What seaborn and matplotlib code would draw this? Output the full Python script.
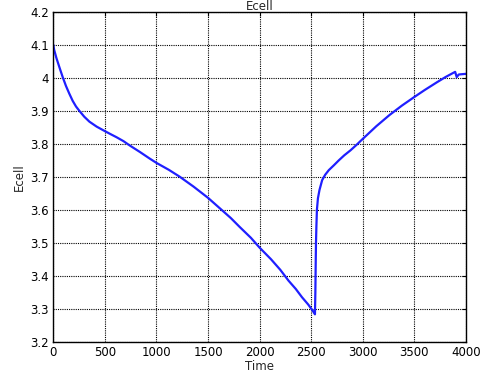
import matplotlib
matplotlib.use("Agg")
import matplotlib.pyplot as plt
import seaborn as sns
import pandas as pd

time = [0, 8, 30, 58, 90, 123, 155, 188, 220, 252, 300, 350, 420, 490, 550, 612,
        680, 740, 840, 935, 1000, 1120, 1226, 1360, 1500, 1630, 1720, 1806, 1915,
        2000, 2110, 2200, 2280, 2350, 2410, 2470, 2510, 2536, 2540, 2543, 2546,
        2550, 2555, 2565, 2580, 2606, 2635, 2670, 2720, 2768, 2820, 2880, 2940,
        3000, 3130, 3258, 3380, 3500, 3600, 3716, 3800, 3877, 3895, 3910, 3930,
        4000]
ecell = [4.10, 4.085, 4.06, 4.033, 4.003, 3.975, 3.952, 3.93, 3.913, 3.90,
         3.882, 3.867, 3.852, 3.840, 3.830, 3.820, 3.808, 3.795, 3.775, 3.755,
         3.742, 3.721, 3.70, 3.67, 3.636, 3.60, 3.575, 3.548, 3.515, 3.485,
         3.45, 3.418, 3.385, 3.360, 3.335, 3.313, 3.296, 3.283, 3.35, 3.43, 3.50,
         3.55, 3.60, 3.635, 3.66, 3.69, 3.706, 3.72, 3.735, 3.75, 3.765, 3.78,
         3.797, 3.815, 3.853, 3.887, 3.916, 3.942, 3.963, 3.986, 4.002, 4.015,
         4.018, 4.002, 4.01, 4.012]

xticks = [0, 500, 1000, 1500, 2000, 2500, 3000, 3500, 4000]
yticks = [3.2, 3.3, 3.4, 3.5, 3.6, 3.7, 3.8, 3.9, 4.0, 4.1, 4.2]
ytick_labels = ["3.2", "3.3", "3.4", "3.5", "3.6", "3.7", "3.8", "3.9", "4", "4.1", "4.2"]

df = pd.DataFrame({"Time": time, "Ecell": ecell})

sns.set_style("white")
plt.rcParams["font.family"] = ["DejaVu Sans"]

fig = plt.figure(figsize=(4.82, 3.81), dpi=100)
ax = fig.add_axes([0.1106, 0.1031, 0.8562, 0.8659])
sns.lineplot(data=df, x="Time", y="Ecell", ax=ax, color="#1f1fff", linewidth=1.6,
             estimator=None, sort=False)

ax.set_xlim(0, 4000)
ax.set_ylim(3.2, 4.2)
ax.set_xticks(xticks)
ax.set_yticks(yticks)
ax.set_yticklabels(ytick_labels)
ax.grid(True, color="black", linestyle=(0, (1, 1)), linewidth=0.8)
for s in ax.spines.values():
    s.set_color("black")
    s.set_linewidth(1.0)
ax.tick_params(direction="in", length=3, width=0.8, labelsize=8.5, colors="black",
               top=True, right=True, pad=3)
ax.set_xlabel("Time", fontsize=8.5, labelpad=1)
ax.set_ylabel("Ecell", fontsize=8.5, labelpad=3)
ax.set_title("Ecell", fontsize=8.5, pad=1)

fig.savefig("out.png", dpi=100)
